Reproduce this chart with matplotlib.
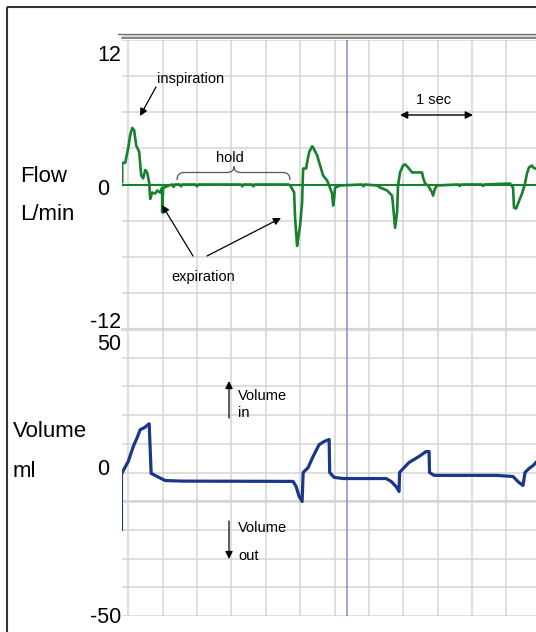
import numpy as np
import matplotlib
matplotlib.use("Agg")
import matplotlib.pyplot as plt
from matplotlib.patches import Rectangle, PathPatch
from matplotlib.path import Path
from matplotlib.transforms import ScaledTranslation

plt.rcParams['font.family'] = ['Liberation Sans', 'DejaVu Sans']

# ---------------- data (time in s, flow in L/min, volume in ml) ----------------
flow_t = [-0.087, -0.087, -0.044, 0.000, 0.029, 0.058, 0.087, 0.116, 0.160, 0.189, 0.218, 0.247, 0.276, 0.305,
          0.320, 0.349, 0.392, 0.422, 0.465, 0.494, 0.494, 0.509, 0.581, 0.64, 0.66, 0.68, 0.75, 0.77, 0.79,
          0.98, 1.00, 1.02, 1.64, 1.66, 1.68, 1.80, 1.82, 1.84, 2.33,
          2.355, 2.398, 2.413, 2.427, 2.456, 2.471, 2.500, 2.529, 2.536, 2.544, 2.587, 2.602, 2.631, 2.674,
          2.689, 2.747, 2.791, 2.834, 2.892, 2.922, 2.965, 2.980, 2.994, 3.009, 3.081,
          3.40, 3.42, 3.44, 3.619, 3.663, 3.765, 3.837, 3.852, 3.881, 3.910, 3.924, 3.953, 3.997, 4.026,
          4.070, 4.128, 4.273, 4.288, 4.317, 4.360, 4.419, 4.433, 4.462, 4.491,
          4.80, 4.82, 4.84, 5.14, 5.16, 5.18, 5.552, 5.596, 5.610, 5.640, 5.669, 5.727, 5.770, 5.799,
          5.828, 5.872, 5.887, 5.930]
flow_v = [0.2, 1.8, 1.8, 3.0, 4.1, 4.7, 4.5, 3.25, 2.7, 0.75, 0.5, 1.2, 1.0, 0.17,
          -1.2, -0.67, -0.75, -0.5, -0.67, -0.25, -2.3, -0.3, -0.1, 0.0, -0.2, 0.0, 0.0, -0.15, 0.0,
          0.0, -0.15, 0.0, 0.0, -0.15, 0.0, 0.0, -0.15, 0.0, 0.0,
          -0.08, -0.5, -0.67, -2.8, -5.1, -4.5, -3.4, -1.5, 0.0, 1.33, 1.33, 1.83, 2.67, 3.17,
          3.08, 2.42, 1.58, 0.75, 0.33, -0.08, -0.75, -1.75, -1.17, -0.25, -0.08,
          0.0, -0.15, 0.0, -0.08, -0.25, -0.5, -0.92, -1.75, -3.6, -2.3, -0.08, 1.0, 1.58, 1.67,
          1.42, 1.0, 1.0, 0.58, 0.08, -0.08, -0.67, -0.92, -0.33, -0.08,
          0.0, -0.12, 0.0, 0.0, -0.12, 0.0, 0.08, -0.25, -1.92, -2.0, -1.58, -0.75, 0.08, 0.92,
          1.42, 1.58, 1.42, 1.3]

vol_t = [-0.087, 0.000, 0.073, 0.131, 0.174, 0.233, 0.291, 0.305, 0.320, 0.334, 0.422, 0.538, 0.785,
         2.398, 2.442, 2.485, 2.529, 2.544, 2.616, 2.689, 2.776, 2.849, 2.922, 2.930, 2.994, 3.125,
         3.750, 3.823, 3.895, 3.939, 3.946, 4.012, 4.084, 4.230, 4.331, 4.375, 4.382, 4.448,
         5.349, 5.596, 5.683, 5.741, 5.770, 5.828, 5.887, 5.930]
vol_v = [0.0, 3.8, 9.0, 12.2, 14.9, 15.6, 16.7, 17.0, 8.0, -0.3, -1.4, -2.8, -3.0,
         -3.1, -4.9, -8.3, -10.1, 0.0, 1.7, 5.6, 9.7, 10.8, 11.5, 0.0, -1.7, -2.1,
         -2.1, -3.1, -4.9, -6.6, 0.0, 1.7, 3.5, 5.6, 7.3, 7.3, 0.0, -1.0,
         -1.0, -1.4, -3.5, -4.5, 0.0, 1.4, 2.4, 3.5]
vol_reset_t = [-0.087, -0.087]
vol_reset_v = [0.0, -20.0]

cursor_t = 3.183

flow_ticks = [-12, 0, 12]
flow_ticklabels = ['-12', '0', '12']
vol_ticks = [-50, 0, 50]
vol_ticklabels = ['-50', '0', '50']

# ---------------- style ----------------
GREEN = '#17802f'
BLUE = '#1b3788'
GRID = '#d4d4d4'
CURSOR = '#8c8cc8'

W, H = 536, 632
fig = plt.figure(figsize=(W / 100, H / 100), dpi=100)
fig.patch.set_facecolor('white')


def fx(x):
    return x / W


def fy(y):
    return 1 - y / H


ax_f = fig.add_axes([fx(122), fy(329), fx(536) - fx(122), fy(40) - fy(329)])
ax_v = fig.add_axes([fx(122), fy(616), fx(536) - fx(122), fy(329) - fy(616)])

for ax in (ax_f, ax_v):
    ax.set_facecolor('none')
    for s in ax.spines.values():
        s.set_visible(False)
    ax.set_xlim(-0.09, 5.93)
    ax.set_xticks(np.arange(0, 6, 0.5))
    ax.tick_params(axis='x', length=0, labelbottom=False)
    ax.tick_params(axis='y', which='both', length=0, pad=0.5, labelsize=15.5)
    ax.set_axisbelow(True)
    ax.grid(True, which='both', color=GRID, lw=1.1)
    ax.axvline(cursor_t, color=CURSOR, lw=1.1, zorder=1.5)

# flow panel
ax_f.set_ylim(-12, 12)
ax_f.set_yticks(np.arange(-12, 13, 3), minor=True)
ax_f.set_yticks(flow_ticks, labels=flow_ticklabels)
ax_f.axhline(-12, color='#e0e0e0', lw=2.4, clip_on=False, zorder=0.3)
ax_f.axhline(0, color=GREEN, lw=1.5, zorder=2)
ax_f.plot(flow_t, flow_v, color=GREEN, lw=1.9, zorder=3)

# volume panel
ax_v.set_ylim(-50, 50)
ax_v.set_yticks(np.arange(-50, 51, 10), minor=True)
ax_v.set_yticks(vol_ticks, labels=vol_ticklabels)
ax_v.axhline(-10, color='#dcdcdc', lw=2.0, zorder=0.4)
ax_v.plot(vol_reset_t, vol_reset_v, color=BLUE, lw=0.8, zorder=3)
ax_v.plot(vol_t, vol_v, color=BLUE, lw=2.3, zorder=3, solid_joinstyle='round')


def shift_label(lbl, dx_px, dy_px):
    lbl.set_transform(lbl.get_transform() +
                      ScaledTranslation(dx_px / 100, -dy_px / 100, fig.dpi_scale_trans))


fl = ax_f.get_yticklabels()
shift_label(fl[0], 0, -9)
shift_label(fl[1], -12, 2.5)
shift_label(fl[2], 0, 13)
vl = ax_v.get_yticklabels()
shift_label(vl[0], 0, -1)
shift_label(vl[1], -12, -5.5)
shift_label(vl[2], 0, 13)

ax_f.set_ylabel('Flow\nL/min', rotation=0, ha='left', va='center', fontsize=16, linespacing=2.12)
ax_f.yaxis.set_label_coords((20 - 122) / 414, (329 - 195.5) / 289)
ax_v.set_ylabel('Volume\nml', rotation=0, ha='left', va='center', fontsize=16, linespacing=2.22)
ax_v.yaxis.set_label_coords((13 - 122) / 414, (616 - 451.5) / 287)

# ---------------- overlay for annotations and frame (pixel coordinates) ----------------
ax_o = fig.add_axes([0, 0, 1, 1])
ax_o.set_xlim(0, W)
ax_o.set_ylim(H, 0)
ax_o.axis('off')
ax_o.patch.set_alpha(0)

# outer frame
ax_o.plot([7, 7], [7, H + 2], color='#333333', lw=1.5, clip_on=False, solid_capstyle='butt')
ax_o.plot([7, W + 2], [7, 7], color='#333333', lw=1.5, clip_on=False, solid_capstyle='butt')

# header bar
ax_o.add_patch(Rectangle((122, 33.5), W - 122, 4.5, facecolor='#dcd8cc', edgecolor='none'))
ax_o.plot([118, W], [33.5, 33.5], color='#6a6a6a', lw=0.9)
ax_o.plot([122, W], [38.2, 38.2], color='#6a6a6a', lw=1.1)

small = 10.5
arrow_kw = dict(arrowstyle='-|>', color='black', lw=0.9, mutation_scale=11, shrinkA=0, shrinkB=0)

ax_o.text(190.5, 79, 'inspiration', ha='center', va='center', fontsize=small)
ax_o.annotate('', xy=(140, 116), xytext=(156, 87), arrowprops=arrow_kw)

ax_o.text(230, 158, 'hold', ha='center', va='center', fontsize=small)
verts = [(177, 180), (177, 172.5), (184, 172.5), (227, 172.5), (234, 172.5), (234, 166.5),
         (234, 172.5), (241, 172.5), (283, 172.5), (290, 172.5), (290, 180)]
codes = [Path.MOVETO, Path.CURVE3, Path.CURVE3, Path.LINETO, Path.CURVE3, Path.CURVE3,
         Path.CURVE3, Path.CURVE3, Path.LINETO, Path.CURVE3, Path.CURVE3]
ax_o.add_patch(PathPatch(Path(verts, codes), facecolor='none', edgecolor='#555555', lw=0.9))

ax_o.text(203.5, 277, 'expiration', ha='center', va='center', fontsize=small)
ax_o.annotate('', xy=(162, 205), xytext=(193, 256), arrowprops=arrow_kw)
ax_o.annotate('', xy=(281, 218), xytext=(207, 256), arrowprops=arrow_kw)

ax_o.text(434, 100, '1 sec', ha='center', va='center', fontsize=small)
ax_o.annotate('', xy=(473, 115), xytext=(400, 115),
              arrowprops=dict(arrowstyle='<|-|>', color='black', lw=1.0, mutation_scale=11,
                              shrinkA=0, shrinkB=0))

ax_o.text(238, 396, 'Volume', ha='left', va='center', fontsize=small)
ax_o.text(238, 413, 'in', ha='left', va='center', fontsize=small)
ax_o.annotate('', xy=(229, 381), xytext=(229, 418), arrowprops=arrow_kw)

ax_o.text(238, 528, 'Volume', ha='left', va='center', fontsize=small)
ax_o.text(238, 556, 'out', ha='left', va='center', fontsize=small)
ax_o.annotate('', xy=(229, 559), xytext=(229, 521), arrowprops=arrow_kw)

fig.savefig('out.png', dpi=100)
